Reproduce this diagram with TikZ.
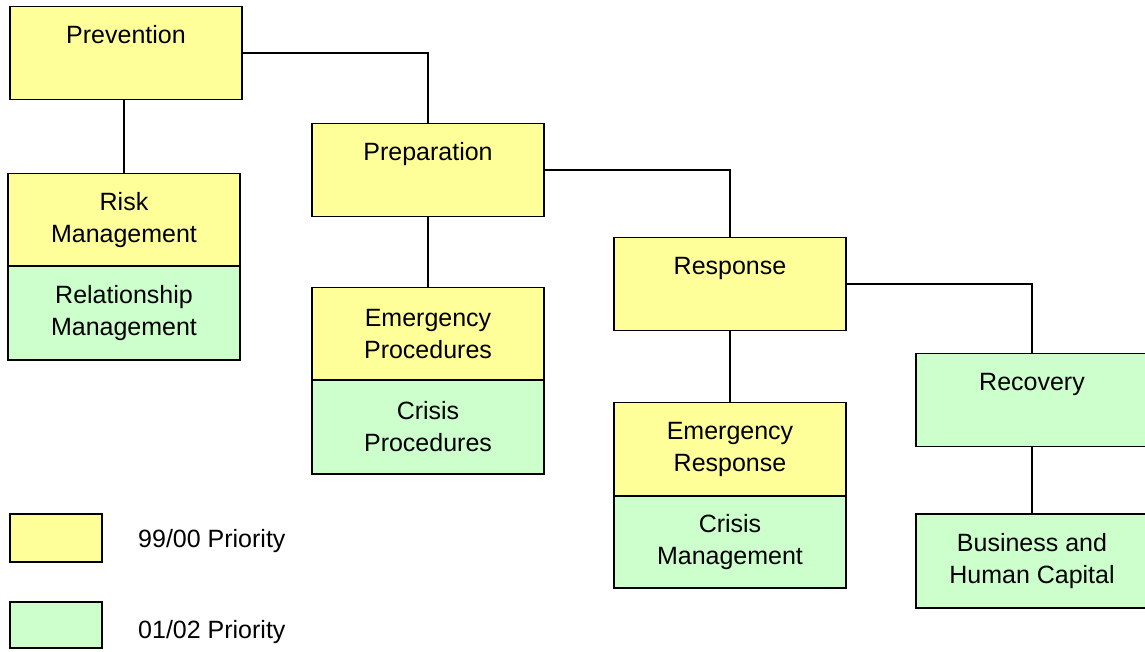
\documentclass[tikz,border=0pt]{standalone}
\usepackage{fontspec}
\setmainfont{Liberation Sans}
\definecolor{prio99}{HTML}{FFFF99}
\definecolor{prio01}{HTML}{CCFFCC}

\begin{document}
\begin{tikzpicture}[x=1pt, y=-1pt,
  caja/.style={draw, line width=1.1pt, minimum width=232pt, minimum height=93pt,
    inner sep=0pt, align=center, font=\fontsize{25}{32}\selectfont},
  amarilla/.style={caja, fill=prio99},
  verde/.style={caja, fill=prio01},
  linea/.style={line width=1.1pt},
  leyenda/.style={draw, line width=1.1pt, minimum width=92pt, inner sep=0pt},
  texto/.style={anchor=west, inner sep=0pt, font=\fontsize{25}{32}\selectfont}]
\useasboundingbox (0,0) rectangle (1145,652);

%Prevencion
\node[amarilla] (prev) at (126,53) {Prevention\\[5pt]\mbox{}};
\node[amarilla] (risk) at (124,220) {Risk\\Management};
\node[verde, minimum height=94pt] (rel) at (124,313) {Relationship\\Management};

%Preparacion
\node[amarilla] (prep) at (428,170) {Preparation\\[5pt]\mbox{}};
\node[amarilla] (eproc) at (428,334) {Emergency\\Procedures};
\node[verde, minimum height=94pt] (cproc) at (428,427) {Crisis\\Procedures};

%Respuesta
\node[amarilla] (resp) at (730,284) {Response\\[5pt]\mbox{}};
\node[amarilla] (eresp) at (730,449) {Emergency\\Response};
\node[verde, minimum height=92pt] (cman) at (730,542) {Crisis\\Management};

%Recuperacion
\node[verde] (recov) at (1032,400) {Recovery\\[5pt]\mbox{}};
\node[verde, minimum height=94pt] (bus) at (1032,561) {Business and\\Human Capital};

%Conectores
\draw[linea] (prev.east) -| (prep.north);
\draw[linea] (prev.south -| risk.north) -- (risk.north);
\draw[linea] (prep.east) -| (resp.north);
\draw[linea] (prep.south) -- (eproc.north);
\draw[linea] (resp.east) -| (recov.north);
\draw[linea] (resp.south) -- (eresp.north);
\draw[linea] (recov.south) -- (bus.north);

%Leyenda
\node[leyenda, fill=prio99, minimum height=48pt] (ley99) at (56,538) {};
\node[texto] (t99) at (138,541) {99/00 Priority};
\node[leyenda, fill=prio01, minimum height=46pt] (ley01) at (56,625) {};
\node[texto] (t01) at (138,632) {01/02 Priority};
\end{tikzpicture}
\end{document}
